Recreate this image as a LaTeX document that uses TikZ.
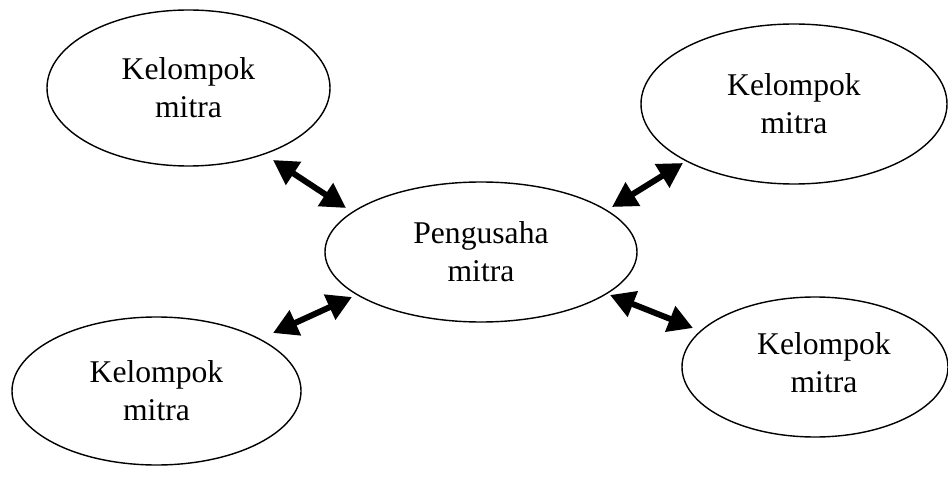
\documentclass[tikz,border=0pt]{standalone}
\usepackage{fontspec}
\setmainfont{Liberation Serif}
\usetikzlibrary{shapes.geometric,arrows.meta}

\tikzset{
  party/.style={draw,ellipse,line width=0.8pt,inner sep=0pt,align=center,
    font=\fontsize{18}{21.6}\selectfont},
  link/.style={line width=3.4pt,{Triangle[length=14pt,width=15pt]}-{Triangle[length=14pt,width=15pt]}}
}

\begin{document}
\begin{tikzpicture}
\useasboundingbox (0,0) rectangle (18.96,9.52);
\node[party,minimum width=5.66cm,minimum height=3.12cm] (tl) at (3.77,7.76) {Kelompok\\mitra};
\node[party,minimum width=6.12cm,minimum height=3.2cm] (tr) at (15.88,7.44) {Kelompok\\mitra};
\node[party,minimum width=6.24cm,minimum height=2.8cm] (pm) at (9.62,4.48) {Pengusaha\\mitra};
\node[party,minimum width=5.78cm,minimum height=2.96cm] (bl) at (3.13,1.70) {Kelompok\\mitra};
\node[party,minimum width=5.32cm,minimum height=2.8cm] (br) at (16.30,2.18) {};
\node[font=\fontsize{18}{21.6}\selectfont,align=center] (brtext) at (16.48,2.26) {Kelompok\\mitra};
\coordinate (tl-a) at (5.46,6.32);
\coordinate (tl-b) at (6.92,5.36);
\coordinate (tr-a) at (13.66,6.26);
\coordinate (tr-b) at (12.24,5.38);
\coordinate (bl-a) at (5.46,2.86);
\coordinate (bl-b) at (7.04,3.58);
\coordinate (br-a) at (13.86,2.96);
\coordinate (br-b) at (12.20,3.62);
\draw[link] (tl-a) -- (tl-b);
\draw[link] (tr-a) -- (tr-b);
\draw[link] (bl-a) -- (bl-b);
\draw[link] (br-a) -- (br-b);
\end{tikzpicture}
\end{document}
